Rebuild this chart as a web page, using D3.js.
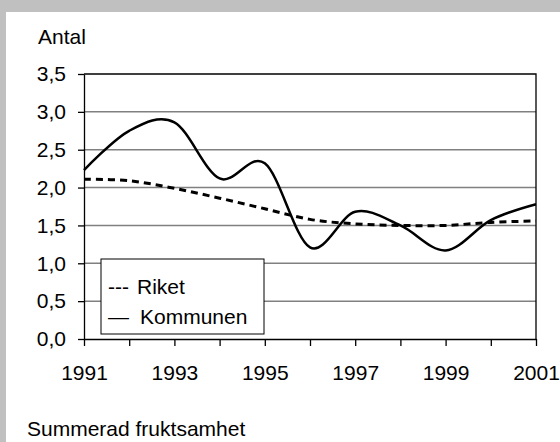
<!DOCTYPE html>
<meta charset="utf-8">
<style>

body {
  margin: 0;
  background: #c0c0c0;
  font-family: "Liberation Sans", Arial, sans-serif;
}

svg text {
  font-size: 21px;
  fill: #000;
}

.grid line {
  stroke: #808080;
  stroke-width: 1.5;
}

.axis path,
.axis line {
  stroke: #000;
  stroke-width: 1.3;
}

</style>
<body>
<svg width="560" height="442"></svg>
<script src="https://cdn.jsdelivr.net/npm/d3@7"></script>
<script>

// data
var years = [1991, 1992, 1993, 1994, 1995, 1996, 1997, 1998, 1999, 2000, 2001];
var kommunen = [2.23, 2.75, 2.86, 2.12, 2.32, 1.21, 1.68, 1.50, 1.17, 1.57, 1.78];
var riket = [2.11, 2.09, 1.99, 1.86, 1.72, 1.58, 1.52, 1.50, 1.50, 1.54, 1.56];
var yTicks = [0, 0.5, 1, 1.5, 2, 2.5, 3, 3.5];
var xLabels = [1991, 1993, 1995, 1997, 1999, 2001];
var legendItems = [{ mark: "---", label: "Riket" }, { mark: "\u2014", label: "Kommunen" }];

var svg = d3.select("svg"),
    margin = {top: 74, right: 24, bottom: 103, left: 84},
    width = +svg.attr("width") - margin.left - margin.right,
    height = +svg.attr("height") - margin.top - margin.bottom;

// white panel inside the grey frame
svg.append("rect")
    .attr("x", 6).attr("y", 12)
    .attr("width", 554).attr("height", 430)
    .attr("fill", "#fff");

var x = d3.scaleLinear().domain([1991, 2001]).range([0, width]),
    y = d3.scaleLinear().domain([0, 3.5]).range([height, 0]);

var fmt = function(d) { return d3.format(".1f")(d).replace(".", ","); };

var g = svg.append("g")
    .attr("transform", "translate(" + margin.left + "," + margin.top + ")");

// horizontal gridlines
g.append("g")
    .attr("class", "grid")
  .selectAll("line")
  .data(yTicks.filter(function(d) { return d > 0 && d < 3.5; }))
  .enter().append("line")
    .attr("x1", 0).attr("x2", width)
    .attr("y1", function(d) { return y(d); })
    .attr("y2", function(d) { return y(d); });

// top and right border
g.append("path")
    .attr("d", "M0," + y(3.5) + "H" + width + "V" + height)
    .attr("fill", "none")
    .attr("stroke", "#000")
    .attr("stroke-width", 1.3);

// x axis
g.append("g")
    .attr("class", "axis")
    .attr("transform", "translate(0," + height + ")")
    .call(d3.axisBottom(x)
      .tickValues(years)
      .tickSize(7)
      .tickSizeOuter(0)
      .tickPadding(19)
      .tickFormat(function(d) { return xLabels.indexOf(d) >= 0 ? d : ""; }));

// y axis
g.append("g")
    .attr("class", "axis")
    .call(d3.axisLeft(y)
      .tickValues(yTicks)
      .tickSize(6)
      .tickSizeOuter(0)
      .tickPadding(12)
      .tickFormat(fmt));

svg.selectAll(".axis text")
    .style("font-family", "'Liberation Sans', Arial, sans-serif")
    .style("font-size", "21px");

// legend
var legend = g.append("g")
    .attr("transform", "translate(" + (101 - margin.left) + "," + (259 - margin.top) + ")");

legend.append("rect")
    .attr("width", 163).attr("height", 75)
    .attr("fill", "#fff")
    .attr("stroke", "#000")
    .attr("stroke-width", 1);

legend.selectAll(".mark")
    .data(legendItems)
  .enter().append("text")
    .attr("class", "mark")
    .attr("x", 7)
    .attr("y", function(d, i) { return 35 + i * 30; })
    .text(function(d) { return d.mark; });

legend.selectAll(".lab")
    .data(legendItems)
  .enter().append("text")
    .attr("class", "lab")
    .attr("x", function(d, i) { return i === 0 ? 36 : 39; })
    .attr("y", function(d, i) { return 35 + i * 30; })
    .text(function(d) { return d.label; });

// the two series, smoothed like the original
var line = d3.line()
    .x(function(d) { return x(d[0]); })
    .y(function(d) { return y(d[1]); })
    .curve(d3.curveCardinal.tension(0));

g.append("path")
    .datum(d3.zip(years, riket))
    .attr("fill", "none")
    .attr("stroke", "#000")
    .attr("stroke-width", 3)
    .attr("stroke-dasharray", "7,5")
    .attr("d", line);

g.append("path")
    .datum(d3.zip(years, kommunen))
    .attr("fill", "none")
    .attr("stroke", "#000")
    .attr("stroke-width", 2.5)
    .attr("d", line);

// titles
svg.append("text")
    .attr("x", 38).attr("y", 44)
    .text("Antal");

svg.append("text")
    .attr("x", 27).attr("y", 436)
    .text("Summerad fruktsamhet");

</script>
